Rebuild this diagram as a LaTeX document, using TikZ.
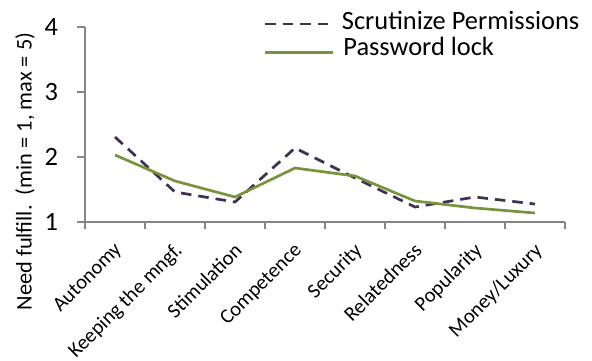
\documentclass[tikz,border=0pt]{standalone}
\usepackage{fontspec}
\setmainfont{Carlito}
\usepackage{tikz}
\usetikzlibrary{positioning}
\definecolor{axisColor}{RGB}{134, 134, 134}
\definecolor{scrutColor}{RGB}{64, 49, 82}
\definecolor{lockColor}{RGB}{119, 147, 60}

\begin{document}
\begin{tikzpicture}[
        x=0.5pt, y=-0.5pt,
        axis/.style={draw=axisColor, line width=0.75pt},
        ticklabel/.style={anchor=base east, inner sep=0pt, font=\fontsize{13.2}{16}\selectfont},
        catlabel/.style={anchor=north east, rotate=45, inner sep=0pt, font=\fontsize{10.3}{12}\selectfont},
        legendlabel/.style={anchor=base west, inner sep=0pt, font=\fontsize{13.2}{16}\selectfont},
        scrutline/.style={draw=scrutColor, line width=1.35pt, dash pattern=on 5.25pt off 3.5pt},
        lockline/.style={draw=lockColor, line width=1.35pt}
    ]
    \useasboundingbox (0,0) rectangle (592,360);

    % Axes
    \coordinate (origin) at (85,222);
    \coordinate (ytop) at (85,27);
    \coordinate (xend) at (565,222);
    \draw [axis] (ytop) -- (origin) -- (xend);
    \foreach \ty in {27,92,157,222} \draw [axis] (77,\ty) -- (85,\ty);
    \foreach \tx in {85,145,...,565} \draw [axis] (\tx,222) -- (\tx,229);

    % Tick labels
    \node (tick4) [ticklabel] at (58.5,35.5) {4};
    \node (tick3) [ticklabel] at (58.5,100.5) {3};
    \node (tick2) [ticklabel] at (58.5,165.5) {2};
    \node (tick1) [ticklabel] at (58.5,230.5) {1};

    % Categories
    \node (autonomy) [catlabel] at (113,241) {Autonomy};
    \node (keeping) [catlabel] at (173,241) {Keeping the mngf.};
    \node (stimulation) [catlabel] at (233,241) {Stimulation};
    \node (competence) [catlabel] at (293,241) {Competence};
    \node (security) [catlabel] at (353,241) {Security};
    \node (relatedness) [catlabel] at (413,241) {Relatedness};
    \node (popularity) [catlabel] at (473,241) {Popularity};
    \node (money) [catlabel] at (533,241) {Money/Luxury};

    % Axis title
    \node (ytitle) [rotate=90, inner sep=0pt, font=\fontsize{11.2}{13}\selectfont] at (25,171.5) {Need fulfill.\ \ (min = 1, max = 5)};

    % Data
    \draw [scrutline, line join=round] (115,137) -- (175,192) -- (235,202) -- (295,148) -- (355,178) -- (415,207) -- (475,197) -- (535,204);
    \draw [lockline, line join=round] (115,155) -- (175,181) -- (235,197) -- (295,168) -- (355,176) -- (415,201) -- (475,208) -- (535,213);

    % Legend
    \coordinate (scrutA) at (265,24);
    \coordinate (scrutB) at (328,24);
    \coordinate (lockA) at (265,52.5);
    \coordinate (lockB) at (333,52.5);
    \draw [scrutline] (scrutA) -- (scrutB);
    \draw [lockline] (lockA) -- (lockB);
    \node (scrutText) [legendlabel] at (341.5,29) {Scrutinize Permissions};
    \node (lockText) [legendlabel] at (343,55) {Password lock};
\end{tikzpicture}
\end{document}
